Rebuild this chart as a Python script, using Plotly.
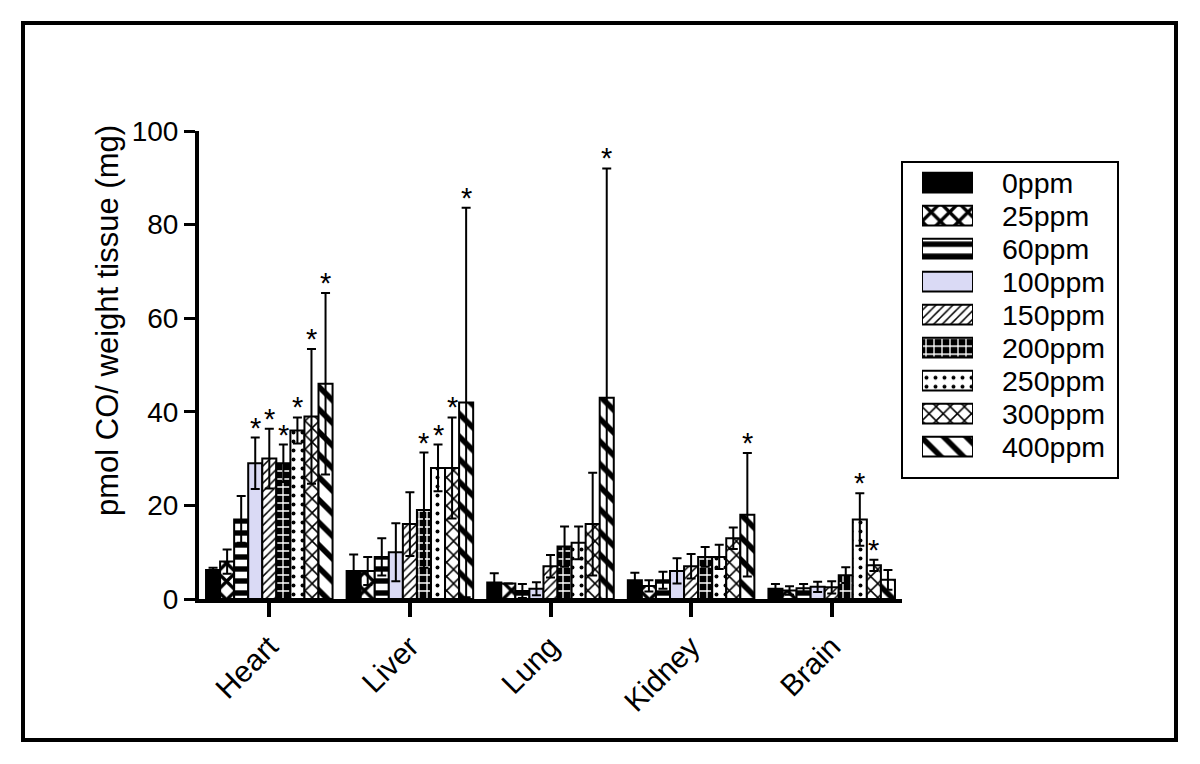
import plotly.graph_objects as go

# ---------------- data ----------------
tissues = ["Heart", "Liver", "Lung", "Kidney", "Brain"]
doses = ["0ppm", "25ppm", "60ppm", "100ppm", "150ppm", "200ppm", "250ppm", "300ppm", "400ppm"]

# mean values per dose (order of tissues)
v_0ppm   = [6.2, 6.0, 3.5, 4.0, 2.2]
v_25ppm  = [8.0, 6.0, 3.3, 2.8, 1.8]
v_60ppm  = [17.0, 9.0, 1.7, 4.0, 2.3]
v_100ppm = [29.0, 10.0, 2.2, 6.0, 2.6]
v_150ppm = [30.0, 16.0, 7.0, 7.0, 2.5]
v_200ppm = [29.0, 19.0, 11.2, 9.0, 5.1]
v_250ppm = [36.0, 28.0, 12.0, 9.0, 17.0]
v_300ppm = [39.0, 28.0, 16.0, 13.0, 7.2]
v_400ppm = [46.0, 42.0, 43.0, 18.0, 4.1]

# SD / error values
e_0ppm   = [0.5, 3.5, 2.0, 1.6, 1.0]
e_25ppm  = [2.6, 3.0, 0.0, 1.2, 0.9]
e_60ppm  = [5.0, 4.0, 1.5, 1.8, 0.9]
e_100ppm = [5.5, 6.2, 1.4, 2.7, 1.1]
e_150ppm = [6.4, 6.8, 2.4, 2.6, 1.3]
e_200ppm = [4.0, 12.3, 4.3, 2.1, 1.7]
e_250ppm = [2.8, 5.0, 3.5, 2.6, 5.6]
e_300ppm = [14.4, 10.8, 11.0, 2.3, 1.2]
e_400ppm = [19.4, 41.6, 49.0, 13.2, 2.1]

# significance markers (1 = asterisk)
s_0ppm   = [0, 0, 0, 0, 0]
s_25ppm  = [0, 0, 0, 0, 0]
s_60ppm  = [0, 0, 0, 0, 0]
s_100ppm = [1, 0, 0, 0, 0]
s_150ppm = [1, 0, 0, 0, 0]
s_200ppm = [1, 1, 0, 0, 0]
s_250ppm = [1, 1, 0, 0, 1]
s_300ppm = [1, 1, 0, 0, 1]
s_400ppm = [1, 1, 1, 1, 0]

values = [v_0ppm, v_25ppm, v_60ppm, v_100ppm, v_150ppm, v_200ppm, v_250ppm, v_300ppm, v_400ppm]
errors = [e_0ppm, e_25ppm, e_60ppm, e_100ppm, e_150ppm, e_200ppm, e_250ppm, e_300ppm, e_400ppm]
signif = [s_0ppm, s_25ppm, s_60ppm, s_100ppm, s_150ppm, s_200ppm, s_250ppm, s_300ppm, s_400ppm]

y_ticks = [0, 20, 40, 60, 80, 100]
y_title = "pmol CO/ weight tissue (mg)"

# ---------------- styles ----------------
FONT = "Arial, Liberation Sans, sans-serif"
def pat(shape, size, solidity, fg="black", bg="white"):
    return dict(shape=shape, fgcolor=fg, bgcolor=bg, fgopacity=1, size=size, solidity=solidity, fillmode="overlay")

styles = [
    dict(color="black"),
    dict(color="white", pattern=pat("x", 13, 0.45)),
    dict(color="white", pattern=pat("-", 12, 0.45)),
    dict(color="#dadaf5"),
    dict(color="white", pattern=pat("/", 6, 0.25)),
    dict(color="black", pattern=pat("+", 8, 0.3, fg="white", bg="black")),
    dict(color="white", pattern=pat(".", 9, 0.15)),
    dict(color="white", pattern=pat("x", 10, 0.28)),
    dict(color="white", pattern=pat("\\", 16, 0.35)),
]

# ---------------- geometry ----------------
W, H = 1200, 764
L, R, T, B = 199, 60, 131, 165
PW, PH = W - L - R, H - T - B
def px_x(x): return (x - L) / PW
def px_y(y): return (H - B - y) / PH

fig = go.Figure()

n = len(doses)
bargap = 0.1
slot = (1 - bargap) / n
for i, d in enumerate(doses):
    fig.add_trace(go.Bar(
        x=tissues, y=values[i], name=d,
        marker=dict(line=dict(color="black", width=2), **styles[i]),
        error_y=dict(type="data", array=errors[i], color="black", thickness=2, width=4.5, visible=True),
        showlegend=False,
    ))
    # asterisks
    for j, t in enumerate(tissues):
        if signif[i][j]:
            fig.add_annotation(
                x=j + (i - (n - 1) / 2) * slot, y=values[i][j] + errors[i][j],
                xref="x", yref="y", text="*", showarrow=False,
                yanchor="bottom", font=dict(family=FONT, size=29, color="black"), yshift=-8,
            )

# legend swatches in an inset axis
for i, d in enumerate(doses):
    fig.add_trace(go.Bar(
        x=[1], y=[i], base=0, orientation="h", width=0.6, offset=-0.3,
        xaxis="x2", yaxis="y2",
        marker=dict(line=dict(color="black", width=2), **styles[i]),
        showlegend=False, hoverinfo="skip",
    ))
    fig.add_annotation(
        x=px_x(1000), y=i, xref="paper", yref="y2", text=d, showarrow=False,
        xanchor="left", yanchor="middle", font=dict(family=FONT, size=28.5, color="black"),
    )

# y-axis title
fig.add_annotation(
    x=px_x(107), y=px_y(321), xref="paper", yref="paper", text=y_title, textangle=-90,
    showarrow=False, xanchor="center", yanchor="middle", font=dict(family=FONT, size=31, color="black"),
)

fig.update_layout(
    width=W, height=H,
    margin=dict(l=L, r=R, t=T, b=B),
    paper_bgcolor="white", plot_bgcolor="white",
    barmode="group", bargap=bargap, bargroupgap=0,
    showlegend=False,
    font=dict(family=FONT, color="black"),
    xaxis=dict(
        domain=[0, px_x(902)], type="category", categoryorder="array", categoryarray=tissues,
        range=[-0.5, 4.5], showline=True, linecolor="black", linewidth=4,
        ticks="outside", ticklen=14, tickwidth=4, tickcolor="black",
        tickangle=-45, tickfont=dict(family=FONT, size=30, color="black"),
        showgrid=False, zeroline=False,
    ),
    yaxis=dict(
        range=[0, 100], tickvals=y_ticks, showline=True, linecolor="black", linewidth=4,
        ticks="outside", ticklen=11, tickwidth=3, tickcolor="black",
        tickfont=dict(family=FONT, size=28, color="black"),
        showgrid=False, zeroline=False,
    ),
    xaxis2=dict(domain=[px_x(922), px_x(973)], range=[0, 1], visible=False, anchor="y2", fixedrange=True),
    yaxis2=dict(domain=[px_y(463.2), px_y(166.2)], range=[8.5, -0.5], visible=False, anchor="x2", fixedrange=True),
    shapes=[
        dict(type="rect", xref="paper", yref="paper", x0=px_x(902), x1=px_x(1118), y0=px_y(478), y1=px_y(162),
             line=dict(color="black", width=2), fillcolor="rgba(0,0,0,0)", layer="below"),
        dict(type="rect", xref="paper", yref="paper", x0=px_x(23), x1=px_x(1176), y0=px_y(740), y1=px_y(23),
             line=dict(color="black", width=4), fillcolor="rgba(0,0,0,0)"),
    ],
)

fig.write_html("out.html", config={"displayModeBar": False},
               post_script="document.body.style.margin='0';document.body.style.padding='0';")
